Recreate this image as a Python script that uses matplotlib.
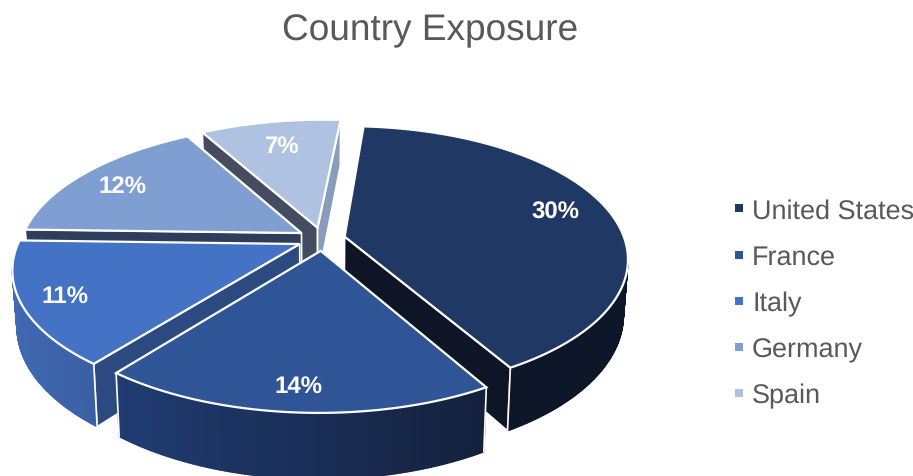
import numpy as np
import matplotlib
matplotlib.use('Agg')
import matplotlib.pyplot as plt
from matplotlib.colors import to_rgb
from matplotlib.lines import Line2D
from matplotlib.patches import Polygon

plt.rcParams['font.family'] = ['Liberation Sans', 'DejaVu Sans']
plt.rcParams['text.hinting'] = 'no_hinting'
plt.rcParams['text.hinting_factor'] = 1

paises = ['United States', 'France', 'Italy', 'Germany', 'Spain']
valores = [30, 14, 11, 12, 7]
rotulos = ['30%', '14%', '11%', '12%', '7%']

cor_topo = ['#1f3864', '#2f5597', '#4472c4', '#7f9fd3', '#afc2e2']
cor_inicio = ['#0d1526', '#0d1526', '#2c4a80', '#2f3d5c', '#454c60']
cor_fim = ['#0d1526', '#1f3c70', '#2c4a80', '#2f3d5c', '#8a9cbc']
cor_lado_esq = ['#0e1729', '#203c72', '#4069b2', '#3a4c72', '#8a9cbc']
cor_lado_dir = ['#0e1729', '#14213d', '#3a5fa3', '#3a4c72', '#8a9cbc']
pos_rotulos = [(555, 213), (299, 387), (65, 297), (123, 187), (282, 147)]

#---------------------- Parametros da perspectiva do disco ------------------------#
CX, CY = 321, 240
A, B = 280, 130
K = 0.17
ALTURA = 54
CONV = 0.015
DESVIO = 1.8
EXPLODE = [0.08, 0.09, 0.09, 0.09, 0.09]
ANG0 = 4


def projeta(u, v, z=0):
    w = 1 + K * v
    x = CX + A * u / w * (1 - CONV * z) + DESVIO * (v + 1) ** 2
    y = CY - B * v / w + ALTURA * z / w
    return np.column_stack([x, y])


def mistura(c1, c2, t):
    return tuple((1 - t) * a + t * b for a, b in zip(to_rgb(c1), to_rgb(c2)))


fig = plt.figure(figsize=(9.13, 4.77), dpi=100)
ax = fig.add_axes([0, 0, 1, 1])
ax.set_xlim(0, 913)
ax.set_ylim(477, 0)
ax.axis('off')

total = sum(valores)
angulos = ANG0 + np.concatenate([[0], np.cumsum(valores)]) / total * 360
fatias = list(range(len(valores)))
meios = [(angulos[i] + angulos[i + 1]) / 2 for i in fatias]
# desenha do fundo para a frente
ordem = sorted(fatias, key=lambda i: -np.cos(np.radians(meios[i])))

for z, i in enumerate(ordem):
    a0, a1 = np.radians(angulos[i]), np.radians(angulos[i + 1])
    m = np.radians(meios[i])
    du, dv = EXPLODE[i] * np.sin(m), EXPLODE[i] * np.cos(m)
    t = np.linspace(a0, a1, int(angulos[i + 1] - angulos[i]) * 2 + 2)
    u = du + np.sin(t)
    v = dv + np.cos(t)

    # laterais radiais visiveis
    for ang, sinal, cor in [(a0, -1, cor_inicio[i]), (a1, 1, cor_fim[i])]:
        if sinal * -np.sin(ang) < 0:
            us = np.array([du, du + np.sin(ang)])
            vs = np.array([dv, dv + np.cos(ang)])
            quad = np.vstack([projeta(us, vs), projeta(us, vs, 1)[::-1]])
            ax.add_patch(Polygon(quad, closed=True, facecolor=cor, edgecolor='white',
                                 linewidth=1.2, zorder=10 + z * 5))

    # parede externa em degrade, so a parte voltada para a frente
    topo = projeta(u, v)
    base = projeta(u, v, 1)
    x0, x1 = topo[:, 0].min(), topo[:, 0].max()
    for j in range(len(t) - 1):
        if np.cos(t[j:j + 2]).mean() > -K:
            continue
        quad = np.vstack([topo[j:j + 2], base[j:j + 2][::-1]])
        cor = mistura(cor_lado_esq[i], cor_lado_dir[i], (topo[j, 0] - x0) / (x1 - x0))
        ax.add_patch(Polygon(quad, closed=True, facecolor=cor, edgecolor=cor,
                             linewidth=1.0, zorder=11 + z * 5))
    for p, q in [(topo[0], base[0]), (topo[-1], base[-1])]:
        if p[1] > CY + 60:
            ax.plot([p[0], q[0]], [p[1], q[1]], color='white', lw=1.2, zorder=12 + z * 5)

    # face de cima
    centro = projeta(np.array([du]), np.array([dv]))
    ax.add_patch(Polygon(np.vstack([centro, topo]), closed=True, facecolor=cor_topo[i],
                         edgecolor='white', linewidth=1.6, joinstyle='miter', zorder=13 + z * 5))

for (x, y), texto in zip(pos_rotulos, rotulos):
    ax.text(x, y, texto, color='white', fontsize=17, fontweight='bold',
            ha='center', va='center', zorder=100)

ax.text(430, 31, 'Country Exposure', color='#595959', fontsize=26.5, ha='center', va='center')

marcas = [Line2D([], [], linestyle='none', marker='s', markersize=5.6, markeredgewidth=0,
                 color=c, label=p) for c, p in zip(cor_topo, paises)]
ax.legend(handles=marcas, loc='center left', bbox_to_anchor=(733.3 / 913, 1 - 304 / 477),
          frameon=False, fontsize=19.3, labelcolor='#595959', labelspacing=0.78,
          handlelength=0.4, handletextpad=0.3, borderpad=0, borderaxespad=0)

fig.savefig('out.png', dpi=100)
